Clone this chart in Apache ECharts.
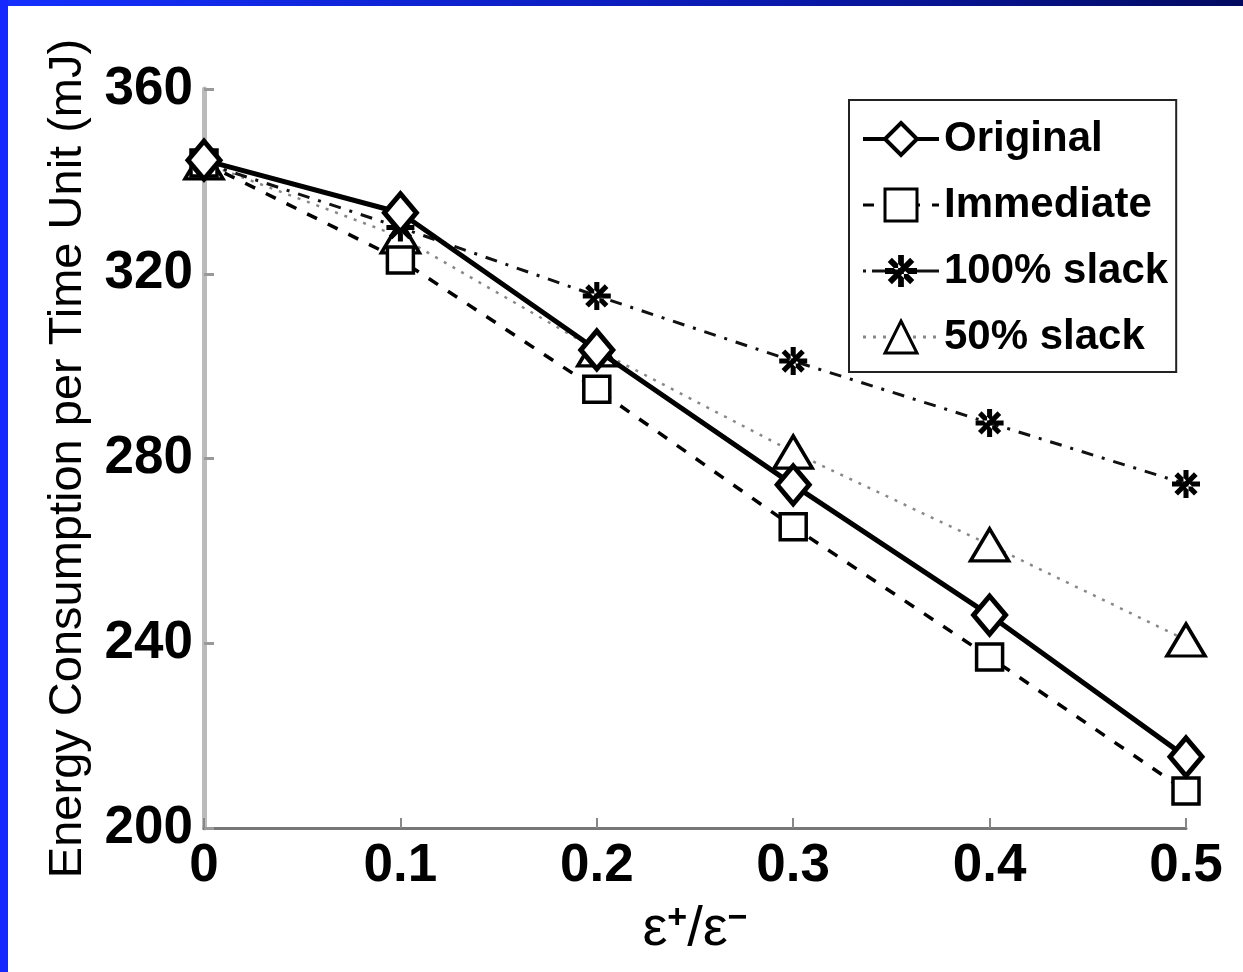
<!DOCTYPE html>
<html>
<head>
<meta charset="utf-8">
<script src="https://cdn.jsdelivr.net/npm/echarts@6/dist/echarts.min.js"></script>
<style>
  html, body { margin: 0; padding: 0; background: #fff; }
  #chart { width: 1243px; height: 972px; }
</style>
</head>
<body>
<div id="chart"></div>
<script>
// ratio values on x axis
const ratios = [0, 0.1, 0.2, 0.3, 0.4, 0.5];
// energy consumption per time unit (mJ)
const original = [344.6, 333.2, 303.5, 274.3, 246.1, 215.4];
const immediate = [344.0, 323.0, 295.0, 265.2, 237.0, 208.0];
const slack100 = [344.0, 330.0, 315.2, 301.1, 287.7, 274.5];
const slack50 = [344.0, 328.0, 303.5, 281.4, 261.3, 240.7];
const seriesNames = ['Original', 'Immediate', '100% slack', '50% slack'];

const FONT = 'Liberation Sans, Arial, sans-serif';

// asterisk marker made of four bars
const star = 'path://M-10,-1.8L10,-1.8L10,1.8L-10,1.8Z M-1.8,-10L1.8,-10L1.8,10L-1.8,10Z ' +
  'M-8.3,-5.7L5.7,8.3L8.3,5.7L-5.7,-8.3Z M5.7,-8.3L8.3,-5.7L-5.7,8.3L-8.3,5.7Z';

function pairs(vals) {
  return ratios.map((r, i) => [r, vals[i]]);
}

const chart = echarts.init(document.getElementById('chart'));

const option = {
  animation: false,
  backgroundColor: '#fff',
  graphic: [
    {
      type: 'rect', left: 0, top: 0, z: 100,
      shape: { width: 1243, height: 6 },
      style: {
        fill: new echarts.graphic.LinearGradient(0, 0, 1, 0, [
          { offset: 0, color: '#1530ff' },
          { offset: 0.6, color: '#0a1ab0' },
          { offset: 1, color: '#020a60' }
        ])
      }
    },
    {
      type: 'rect', left: 0, top: 0, z: 100,
      shape: { width: 8, height: 972 },
      style: { fill: '#1428ff' }
    }
  ],
  grid: { left: 204, right: 57, top: 89, bottom: 144 },
  legend: {
    left: 849,
    top: 100,
    orient: 'vertical',
    backgroundColor: '#fff',
    borderColor: '#222',
    borderWidth: 2,
    borderRadius: 0,
    padding: [18, 8, 14, 12],
    itemGap: 24,
    itemWidth: 76,
    itemHeight: 40,
    itemStyle: { borderWidth: 3 },
    textStyle: {
      fontFamily: FONT,
      fontWeight: 'bold',
      fontSize: 42,
      color: '#000'
    },
    data: [
      { name: seriesNames[0], lineStyle: { width: 4 }, itemStyle: { borderWidth: 4 } },
      { name: seriesNames[1], lineStyle: { width: 3 } },
      { name: seriesNames[2], lineStyle: { width: 3, type: [3, 6, 30, 6] } },
      { name: seriesNames[3], lineStyle: { width: 3 } }
    ]
  },
  xAxis: {
    type: 'value',
    min: 0,
    max: 0.5,
    interval: 0.1,
    name: '{b|ε}{s|+}{b|/ε}{s|−}',
    nameLocation: 'middle',
    nameGap: 74,
    nameTextStyle: {
      rich: {
        b: { fontFamily: FONT, fontSize: 56, lineHeight: 56, color: '#000', verticalAlign: 'bottom' },
        s: { fontFamily: FONT, fontSize: 34, fontWeight: 'bold', lineHeight: 56, color: '#000', verticalAlign: 'top' }
      }
    },
    axisLine: { show: true, lineStyle: { color: '#777', width: 3 } },
    axisTick: { show: true, inside: true, length: 10, lineStyle: { color: '#888', width: 2 } },
    splitLine: { show: false },
    axisLabel: {
      margin: 12,
      fontFamily: FONT,
      fontWeight: 'bold',
      fontSize: 53,
      color: '#000',
      formatter: v => (v === 0 ? '0' : v.toFixed(1))
    }
  },
  yAxis: {
    type: 'value',
    min: 200,
    max: 360,
    interval: 40,
    name: 'Energy Consumption per Time Unit (mJ)',
    nameLocation: 'middle',
    nameGap: 112,
    nameTextStyle: {
      fontFamily: FONT,
      fontSize: 47,
      color: '#000'
    },
    axisLine: { show: true, lineStyle: { color: '#bbb', width: 5 } },
    axisTick: { show: true, inside: true, length: 10, lineStyle: { color: '#999', width: 3 } },
    splitLine: { show: false },
    axisLabel: {
      margin: 11,
      fontFamily: FONT,
      fontWeight: 'bold',
      fontSize: 53,
      color: '#000'
    }
  },
  series: [
    {
      name: seriesNames[0],
      type: 'line',
      data: pairs(original),
      symbol: 'diamond',
      symbolSize: [32, 38],
      z: 5,
      lineStyle: { color: '#000', width: 5 },
      itemStyle: { color: '#fff', borderColor: '#000', borderWidth: 5 }
    },
    {
      name: seriesNames[1],
      type: 'line',
      data: pairs(immediate),
      symbol: 'rect',
      symbolSize: 26,
      z: 4,
      lineStyle: { color: '#000', width: 3.5, type: [11, 12] },
      itemStyle: { color: '#fff', borderColor: '#000', borderWidth: 3.5 }
    },
    {
      name: seriesNames[2],
      type: 'line',
      data: pairs(slack100),
      symbol: star,
      symbolSize: 28,
      z: 3,
      lineStyle: { color: '#111', width: 3, type: [12, 9, 3, 9] },
      itemStyle: { color: '#000', borderWidth: 0 }
    },
    {
      name: seriesNames[3],
      type: 'line',
      data: pairs(slack50),
      symbol: 'triangle',
      symbolSize: [38, 32],
      z: 2,
      lineStyle: { color: '#888', width: 2.5, type: [3, 7] },
      itemStyle: { color: '#fff', borderColor: '#000', borderWidth: 3.5 }
    }
  ]
};

chart.setOption(option);
</script>
</body>
</html>
